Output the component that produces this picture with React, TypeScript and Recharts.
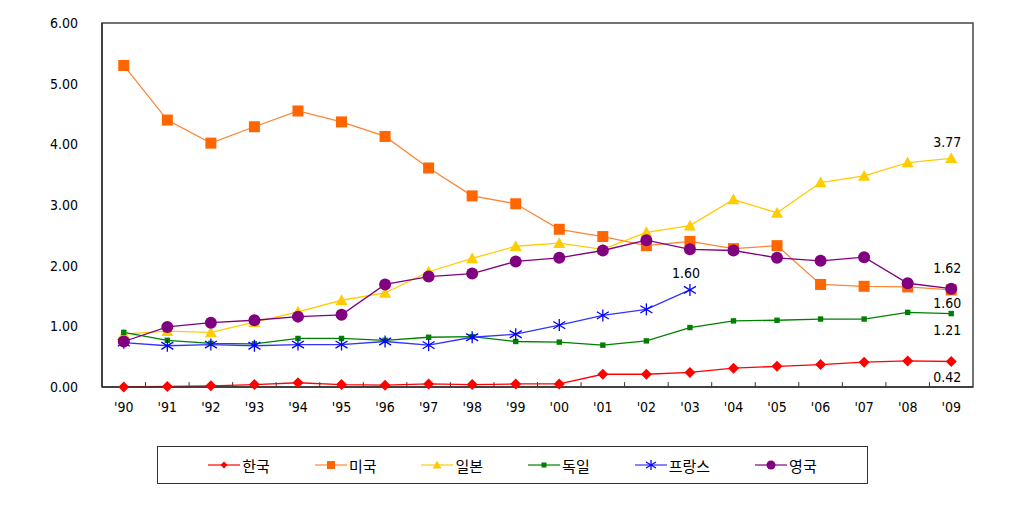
import React from "react";
import {
  LineChart,
  Line,
  XAxis,
  YAxis,
  Legend,
  ReferenceArea,
  ReferenceLine,
} from "recharts";

const years = ["'90", "'91", "'92", "'93", "'94", "'95", "'96", "'97", "'98", "'99", "'00", "'01", "'02", "'03", "'04", "'05", "'06", "'07", "'08", "'09"];
const korea = [0.0, 0.01, 0.02, 0.04, 0.07, 0.04, 0.03, 0.05, 0.04, 0.05, 0.05, 0.21, 0.21, 0.24, 0.31, 0.34, 0.37, 0.41, 0.43, 0.42];
const usa = [5.3, 4.4, 4.02, 4.29, 4.55, 4.37, 4.13, 3.61, 3.15, 3.02, 2.6, 2.48, 2.33, 2.4, 2.28, 2.33, 1.69, 1.66, 1.65, 1.6];
const japan = [0.87, 0.92, 0.9, 1.07, 1.24, 1.43, 1.55, 1.9, 2.12, 2.32, 2.37, 2.27, 2.55, 2.66, 3.09, 2.87, 3.37, 3.48, 3.7, 3.77];
const germany = [0.9, 0.77, 0.72, 0.71, 0.8, 0.8, 0.77, 0.82, 0.83, 0.75, 0.74, 0.69, 0.76, 0.98, 1.09, 1.1, 1.12, 1.12, 1.23, 1.21];
const france: (number | null)[] = [0.73, 0.68, 0.7, 0.68, 0.7, 0.7, 0.75, 0.69, 0.82, 0.87, 1.02, 1.18, 1.28, 1.6, null, null, null, null, null, null];
const uk = [0.75, 0.99, 1.06, 1.1, 1.16, 1.19, 1.69, 1.82, 1.87, 2.07, 2.13, 2.25, 2.42, 2.27, 2.25, 2.13, 2.08, 2.14, 1.71, 1.62];
const yTicks = [0, 1, 2, 3, 4, 5, 6];

const data = years.map((year, i) => ({
  idx: i,
  year,
  korea: korea[i],
  usa: usa[i],
  japan: japan[i],
  germany: germany[i],
  france: france[i],
  uk: uk[i],
}));

type Shape = "diamond" | "square" | "triangle" | "smallSquare" | "asterisk" | "circle";

const series: { key: string; name: string; line: string; mark: string; shape: Shape; labelIdx: number; labelDy: number }[] = [
  { key: "korea", name: "한국", line: "#FF0000", mark: "#FF0000", shape: "diamond", labelIdx: 19, labelDy: 15 },
  { key: "usa", name: "미국", line: "#FF8533", mark: "#FF6600", shape: "square", labelIdx: 19, labelDy: 13 },
  { key: "japan", name: "일본", line: "#FFCC00", mark: "#FFCC00", shape: "triangle", labelIdx: 19, labelDy: -16 },
  { key: "germany", name: "독일", line: "#008000", mark: "#008000", shape: "smallSquare", labelIdx: 19, labelDy: 16 },
  { key: "france", name: "프랑스", line: "#3333FF", mark: "#0000FF", shape: "asterisk", labelIdx: 13, labelDy: -17 },
  { key: "uk", name: "영국", line: "#800080", mark: "#800080", shape: "circle", labelIdx: 19, labelDy: -21 },
];

const numFont = "'DejaVu Sans Condensed', 'DejaVu Sans', sans-serif";

function Marker({ cx, cy, shape, color, s }: { cx: number; cy: number; shape: Shape; color: string; s: number }) {
  switch (shape) {
    case "diamond":
      return <polygon points={`${cx},${cy - s} ${cx + s},${cy} ${cx},${cy + s} ${cx - s},${cy}`} fill={color} />;
    case "square":
      return <rect x={cx - s} y={cy - s} width={2 * s} height={2 * s} fill={color} />;
    case "triangle":
      return <polygon points={`${cx},${cy - s} ${cx + s},${cy + s * 0.8} ${cx - s},${cy + s * 0.8}`} fill={color} />;
    case "smallSquare":
      return <rect x={cx - s} y={cy - s} width={2 * s} height={2 * s} fill={color} />;
    case "asterisk":
      return (
        <g stroke={color} strokeWidth={1.3}>
          <line x1={cx} y1={cy - s} x2={cx} y2={cy + s} />
          <line x1={cx - s} y1={cy - s * 0.6} x2={cx + s} y2={cy + s * 0.6} />
          <line x1={cx - s} y1={cy + s * 0.6} x2={cx + s} y2={cy - s * 0.6} />
        </g>
      );
    case "circle":
      return <circle cx={cx} cy={cy} r={s} fill={color} />;
  }
  return null;
}

const dotSize: Record<Shape, number> = {
  diamond: 5.5,
  square: 5.5,
  triangle: 6,
  smallSquare: 2.7,
  asterisk: 6,
  circle: 6,
};
const legendSize: Record<Shape, number> = {
  diamond: 3.5,
  square: 4,
  triangle: 4.5,
  smallSquare: 2.5,
  asterisk: 5,
  circle: 4.5,
};

function LegendBox() {
  return (
    <div
      style={{
        width: 711,
        height: 38,
        border: "1px solid #333",
        boxSizing: "border-box",
        display: "flex",
        alignItems: "center",
        justifyContent: "center",
        gap: 45,
        background: "#fff",
      }}
    >
      {series.map((s) => (
        <div key={s.key} style={{ display: "flex", alignItems: "center" }}>
          <svg width={32} height={12}>
            <line x1={0} x2={32} y1={6} y2={6} stroke={s.line} strokeWidth={1.2} />
            <Marker cx={16} cy={6} shape={s.shape} color={s.mark} s={legendSize[s.shape]} />
          </svg>
          <span style={{ marginLeft: 2, fontSize: 15, fontFamily: "'Noto Sans CJK KR', sans-serif", color: "#000" }}>
            {s.name}
          </span>
        </div>
      ))}
    </div>
  );
}

export default function App() {
  return (
    <LineChart
      width={1000}
      height={491}
      data={data}
      margin={{ top: 15, right: 35, left: 34, bottom: 82 }}
    >
      <XAxis
        dataKey="idx"
        type="number"
        domain={[-0.5, 19.5]}
        ticks={data.map((d) => d.idx)}
        tickFormatter={(v: number) => years[v]}
        interval={0}
        tickLine={false}
        tickSize={6}
        tickMargin={9}
        axisLine={{ stroke: "#333", strokeWidth: 1.5 }}
        tick={{ fill: "#000", fontSize: 14, fontFamily: numFont }}
        allowDataOverflow
      />
      <YAxis
        type="number"
        domain={[0, 6]}
        ticks={yTicks}
        tickFormatter={(v: number) => v.toFixed(2)}
        width={60}
        tickLine={false}
        tickSize={6}
        tickMargin={18}
        axisLine={{ stroke: "#333", strokeWidth: 1.5 }}
        tick={{ fill: "#000", fontSize: 14, fontFamily: numFont }}
      />
      <ReferenceArea x1={-0.5} x2={19.5} y1={0} y2={6} fill="none" stroke="#444" strokeWidth={1.5} />
      {years.slice(0, 19).map((_, i) => (
        <ReferenceLine
          key={"t" + i}
          segment={[
            { x: i + 0.5, y: 0 },
            { x: i + 0.5, y: 0.08 },
          ]}
          stroke="#333"
          strokeWidth={1}
        />
      ))}
      {series.map((s) => (
        <Line
          key={s.key}
          dataKey={s.key}
          name={s.name}
          stroke={s.line}
          strokeWidth={1.3}
          isAnimationActive={false}
          connectNulls={false}
          dot={(p: any) => {
            if (p.value == null || p.cy == null) return <g key={s.key + p.index} />;
            return (
              <g key={s.key + p.index}>
                <Marker cx={p.cx} cy={p.cy} shape={s.shape} color={s.mark} s={dotSize[s.shape]} />
              </g>
            );
          }}
          activeDot={false}
          label={(p: any) => {
            if (p.index !== s.labelIdx || p.value == null) return <g key={s.key + "l" + p.index} />;
            return (
              <text
                key={s.key + "l" + p.index}
                x={p.x - 4}
                y={p.y + s.labelDy}
                textAnchor="middle"
                dominantBaseline="central"
                fontSize={14}
                fontFamily={numFont}
                fill="#000"
              >
                {Number(p.value).toFixed(2)}
              </text>
            );
          }}
        />
      ))}
      <Legend
        layout="horizontal"
        verticalAlign="middle"
        align="center"
        content={() => <LegendBox />}
        wrapperStyle={{ top: 438, left: 149, width: 711, height: 38 }}
      />
    </LineChart>
  );
}
